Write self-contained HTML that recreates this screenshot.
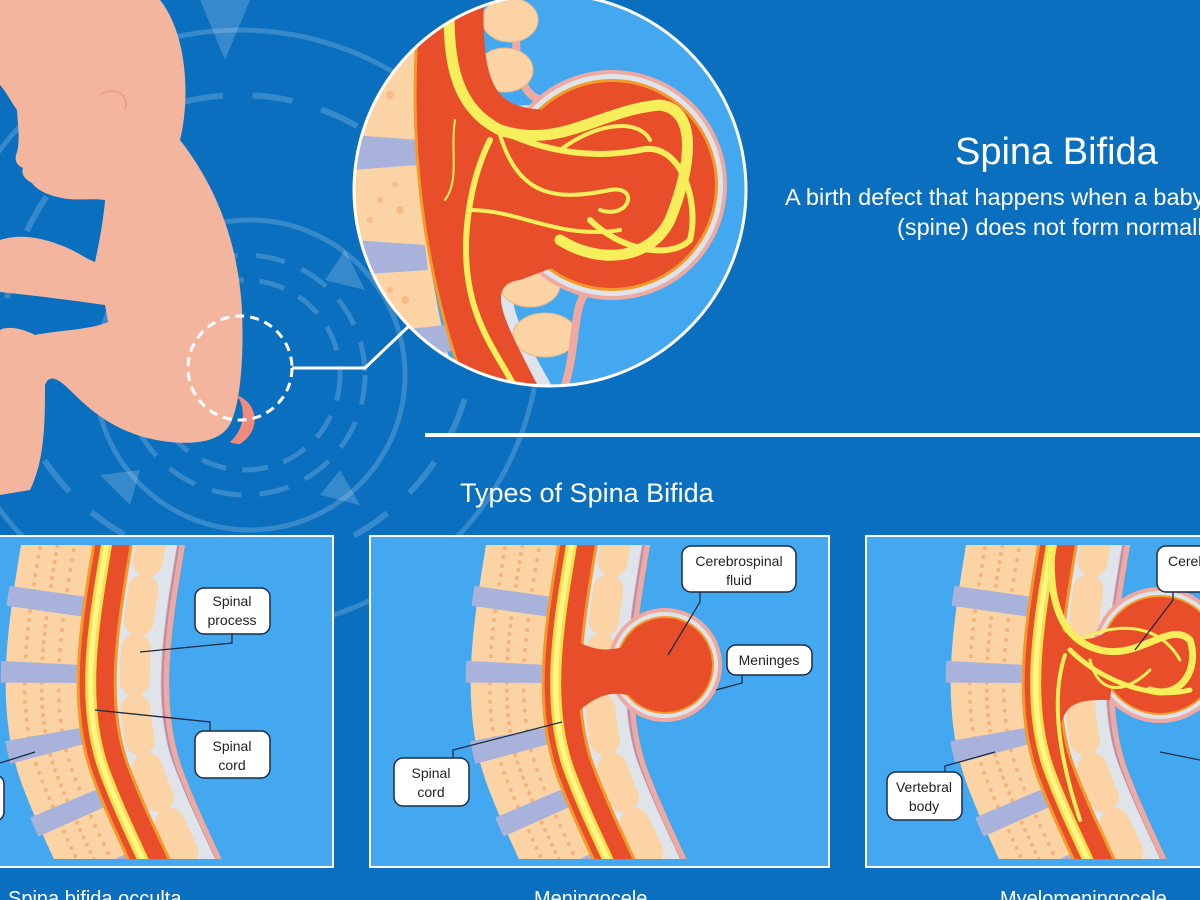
<!DOCTYPE html>
<html><head><meta charset="utf-8"><style>
html,body{margin:0;padding:0;background:#0a6fbf;}
svg{display:block;}
text{font-family:"Liberation Sans",sans-serif;}
</style></head><body>
<svg width="1200" height="900" viewBox="0 0 1200 900" xmlns="http://www.w3.org/2000/svg">
<defs>
  <path id="cl" d="M115,530 C100,620 85,700 110,770 C125,810 140,840 156,875"/>
  <g id="spine" fill="none">
    <use href="#cl" transform="translate(68,0)" stroke="#f0a9a0" stroke-width="9"/>
    <use href="#cl" transform="translate(66,0)" stroke="#b08fb6" stroke-width="2"/>
    <use href="#cl" transform="translate(40,0)" stroke="#dfe4ea" stroke-width="48"/>
    <use href="#cl" transform="translate(38,0)" stroke="#fcd3a4" stroke-width="30" stroke-dasharray="32 28" stroke-linecap="round"/>
    <use href="#cl" transform="translate(-55,0)" stroke="#fcd3a4" stroke-width="72"/>
    <use href="#cl" transform="translate(-72,0)" stroke="#f6b27a" stroke-width="4" stroke-dasharray="0.1 9" stroke-linecap="round"/>
    <use href="#cl" transform="translate(-55,0)" stroke="#f6b27a" stroke-width="4" stroke-dasharray="0.1 8" stroke-linecap="round"/>
    <use href="#cl" transform="translate(-38,0)" stroke="#f6b27a" stroke-width="4" stroke-dasharray="0.1 10" stroke-linecap="round"/>
    <use href="#cl" transform="translate(-58,0)" stroke="#a9b2da" stroke-width="76" stroke-dasharray="20 52" stroke-dashoffset="10"/>
    <use href="#cl" stroke="#f39a2b" stroke-width="40"/>
    <use href="#cl" stroke="#e94e2a" stroke-width="34"/>
    <use href="#cl" transform="translate(-6,0)" stroke="#f4e04a" stroke-width="11"/>
    <use href="#cl" transform="translate(-6,0)" stroke="#fbf58a" stroke-width="5"/>
  </g>
  <clipPath id="c1"><rect x="0" y="545" width="330" height="314"/></clipPath>
  <clipPath id="c2"><rect x="372" y="545" width="456" height="314"/></clipPath>
  <clipPath id="c3"><rect x="867" y="545" width="333" height="314"/></clipPath>
  <clipPath id="cb"><circle cx="550" cy="190" r="196"/></clipPath>
</defs>

<!-- background rings -->
<g fill="none" stroke="#ffffff" stroke-opacity="0.18">
  <circle cx="250" cy="375" r="155" stroke-width="5"/>
  <circle cx="240" cy="330" r="300" stroke-width="5"/>
  <circle cx="245" cy="375" r="120" stroke-width="5" stroke-dasharray="30 18"/>
  <circle cx="245" cy="375" r="95" stroke-width="5" stroke-dasharray="26 16"/>
  <circle cx="240" cy="330" r="235" stroke-width="6" stroke-dasharray="40 30"/>
</g>
<g fill="#ffffff" fill-opacity="0.18">
  <polygon points="200,0 250,0 225,60"/>
  <polygon points="345,250 365,290 325,280"/>
  <polygon points="100,475 140,470 130,505"/>
  <polygon points="340,470 360,505 320,495"/>
</g>

<!-- fetus -->
<path fill="#f4b59f" d="M0,0 L160,0 C188,35 190,100 180,140 C215,185 238,240 242,310 C244,360 240,400 232,420 C225,440 200,445 170,442 C130,438 100,420 75,395 C60,380 50,372 45,385 C45,420 45,460 30,490 L0,495 L0,330 C10,325 25,330 35,335 C60,330 90,330 108,322 L105,305 C70,300 30,295 0,292 L0,240 C15,235 35,235 60,245 C75,250 88,260 95,262 C100,240 104,215 105,200 C90,198 75,201 62,198 C47,195 37,190 32,183 C24,179 21,173 23,168 C16,165 14,160 17,152 C20,142 18,125 17,110 C10,100 5,90 0,85 Z"/>
<path fill="#f08a7c" d="M236,395 C258,402 262,430 240,444 C236,444 232,443 230,442 C246,428 246,405 236,395 Z"/>
<path d="M100,95 C115,85 130,95 125,110" stroke="#e8a08c" stroke-width="2" fill="none"/>
<circle cx="240" cy="368" r="52" fill="none" stroke="#fff" stroke-width="3" stroke-dasharray="9 6"/>
<polyline points="292,368 365,368 410,325" fill="none" stroke="#fff" stroke-width="3"/>

<!-- big circle zoom -->
<g clip-path="url(#cb)">
  <rect x="350" y="0" width="410" height="400" fill="#44a8f0"/>
  <path d="M520,-10 C510,60 520,100 545,100" fill="none" stroke="#f0a9a0" stroke-width="8"/>
  <path d="M470,-10 C460,80 470,110 530,105 L600,90 L600,290 L530,285 C495,285 520,330 560,400 L480,410 C430,300 400,150 430,-10 Z" fill="#dfe4ea"/>
  <ellipse cx="510" cy="20" rx="28" ry="22" fill="#fcd3a4" stroke="#e8b88a"/>
  <ellipse cx="505" cy="70" rx="28" ry="22" fill="#fcd3a4" stroke="#e8b88a"/>
  <ellipse cx="530" cy="285" rx="30" ry="22" fill="#fcd3a4" stroke="#e8b88a"/>
  <ellipse cx="545" cy="335" rx="32" ry="22" fill="#fcd3a4" stroke="#e8b88a"/>
  <path d="M560,400 C580,350 570,300 590,290" fill="none" stroke="#f0a9a0" stroke-width="8"/>
  <circle cx="612" cy="185" r="115" fill="#f0a9a0"/>
  <circle cx="612" cy="185" r="111" fill="#dfe4ea"/>
  <circle cx="612" cy="185" r="106" fill="#f39a2b"/>
  <circle cx="612" cy="185" r="103" fill="#e94e2a"/>
  <path d="M352,0 L425,0 C410,120 420,260 460,400 L352,400 Z" fill="#fcd3a4"/>
  <g fill="#a9b2da"><path d="M352,135 L420,140 L418,165 L352,170 Z"/><path d="M352,240 L425,245 L428,270 L352,275 Z"/><path d="M400,330 L445,325 L455,350 L415,360 Z"/></g>
  <g fill="#f6b27a" opacity="0.7"><circle cx="375" cy="80" r="3"/><circle cx="390" cy="95" r="4"/><circle cx="380" cy="200" r="3"/><circle cx="400" cy="210" r="4"/><circle cx="370" cy="220" r="3"/><circle cx="405" cy="300" r="4"/><circle cx="390" cy="290" r="3"/><circle cx="385" cy="65" r="3"/><circle cx="395" cy="185" r="3"/></g>
  <path d="M420,-10 C410,100 410,240 470,400 L545,400 C510,330 480,285 520,280 L600,250 L560,110 C500,110 480,100 484,-10 Z" fill="#e94e2a"/>
  <path d="M420,-10 C410,100 410,240 470,400" fill="none" stroke="#f39a2b" stroke-width="3"/>
  <g fill="none" stroke="#f6ee5a" stroke-linecap="round">
    <path d="M450,-10 C445,70 460,110 500,130 C560,150 600,110 660,105 C700,110 690,170 670,220 C650,260 600,265 560,240" stroke-width="11"/>
    <path d="M500,130 C540,150 590,160 640,150 C680,140 700,200 690,240 C670,260 620,250 590,220" stroke-width="6"/>
    <path d="M490,140 C470,180 460,240 470,290 C480,340 510,370 520,400" stroke-width="6"/>
    <path d="M500,135 C520,200 560,200 610,190 C640,185 630,220 600,210" stroke-width="4"/>
    <path d="M470,210 C520,210 560,240 620,230" stroke-width="4"/>
    <path d="M455,120 C450,150 460,180 445,200" stroke-width="2"/>
    <path d="M560,150 C600,120 640,120 650,140" stroke-width="4"/>
  </g>
</g>
<circle cx="550" cy="190" r="196" fill="none" stroke="#fff" stroke-width="3"/>

<!-- titles -->
<text x="955" y="164" font-size="38" fill="#fff">Spina Bifida</text>
<text x="785" y="205" font-size="23.5" fill="#fff">A birth defect that happens when a baby's backbone</text>
<text x="897" y="235" font-size="23.5" fill="#fff">(spine) does not form normally.</text>
<rect x="425" y="433" width="775" height="4" fill="#fff"/>
<text x="460" y="502" font-size="27" fill="#fff">Types of Spina Bifida</text>

<!-- panels -->
<rect x="-5" y="536" width="338" height="331" fill="#44a8f0" stroke="#fff" stroke-width="2"/>
<rect x="370" y="536" width="459" height="331" fill="#44a8f0" stroke="#fff" stroke-width="2"/>
<rect x="866" y="536" width="340" height="331" fill="#44a8f0" stroke="#fff" stroke-width="2"/>

<g clip-path="url(#c1)"><use href="#spine"/></g>
<g clip-path="url(#c2)"><use href="#spine" transform="translate(465,0)"/>
  <circle cx="665" cy="665" r="57" fill="#f0a9a0"/>
  <circle cx="665" cy="665" r="53" fill="#dfe4ea"/>
  <circle cx="665" cy="665" r="49" fill="#f39a2b"/>
  <circle cx="665" cy="665" r="47" fill="#e94e2a"/>
  <path d="M575,640 C600,655 620,650 640,640 L640,700 C620,690 600,690 575,715 Z" fill="#e94e2a"/>
</g>
<g clip-path="url(#c3)"><use href="#spine" transform="translate(945,0)"/>
  <circle cx="1160" cy="655" r="68" fill="#f0a9a0"/>
  <circle cx="1160" cy="655" r="64" fill="#dfe4ea"/>
  <circle cx="1160" cy="655" r="60" fill="#f39a2b"/>
  <circle cx="1160" cy="655" r="58" fill="#e94e2a"/>
  <path d="M1050,620 C1080,650 1100,640 1120,620 L1110,700 C1080,700 1060,700 1060,740 Z" fill="#e94e2a"/>
  <g fill="none" stroke="#f6ee5a" stroke-linecap="round">
    <path d="M1052,545 C1048,600 1060,640 1100,650 C1140,660 1170,620 1190,640 C1200,670 1180,700 1150,690" stroke-width="7"/>
    <path d="M1070,650 C1100,680 1150,700 1190,690" stroke-width="5"/>
    <path d="M1065,655 C1050,700 1060,760 1080,820" stroke-width="4"/>
    <path d="M1090,660 C1100,700 1130,690 1150,670" stroke-width="3"/>
    <path d="M1080,640 C1120,620 1160,625 1180,660" stroke-width="3"/>
  </g>
</g>

<!-- labels -->
<g fill="none" stroke="#1b2c44" stroke-width="1.3">
  <polyline points="232,633 232,643 140,652"/>
  <polyline points="210,732 210,722 95,710"/>
  <polyline points="0,763 35,752"/>
  <polyline points="700,592 700,602 668,655"/>
  <polyline points="742,675 742,683 716,690"/>
  <polyline points="453,758 453,750 562,722"/>
  <polyline points="945,772 945,766 995,752"/>
  <polyline points="1173,592 1173,600 1135,650"/>
  <polyline points="1160,752 1200,760"/>
</g>
<g fill="#fff" stroke="#1b2c44" stroke-width="1.5">
  <rect x="195" y="588" width="75" height="46" rx="9"/>
  <rect x="195" y="731" width="75" height="47" rx="9"/>
  <rect x="-20" y="775" width="24" height="46" rx="9"/>
  <rect x="682" y="546" width="114" height="46" rx="9"/>
  <rect x="727" y="645" width="85" height="30" rx="9"/>
  <rect x="394" y="758" width="75" height="48" rx="9"/>
  <rect x="887" y="772" width="75" height="48" rx="9"/>
  <rect x="1157" y="546" width="60" height="46" rx="9"/>
</g>
<g font-size="14" fill="#222" text-anchor="middle">
  <text x="232" y="606">Spinal</text><text x="232" y="625">process</text>
  <text x="232" y="751">Spinal</text><text x="232" y="770">cord</text>
  <text x="739" y="566">Cerebrospinal</text><text x="739" y="585">fluid</text>
  <text x="769" y="665">Meninges</text>
  <text x="431" y="778">Spinal</text><text x="431" y="797">cord</text>
  <text x="924" y="792">Vertebral</text><text x="924" y="811">body</text>
  <text x="1168" y="566" text-anchor="start">Cerebrospinal</text>
</g>
<g font-size="20" fill="#fff">
  <text x="8" y="905">Spina bifida occulta</text>
  <text x="534" y="905">Meningocele</text>
  <text x="1000" y="905">Myelomeningocele</text>
</g>
</svg>
</body></html>
